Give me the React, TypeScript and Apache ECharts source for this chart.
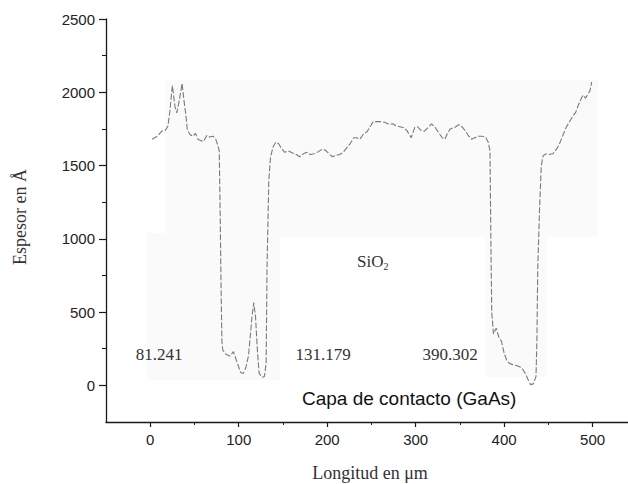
import React, { useEffect, useRef } from "react";
import * as echarts from "echarts";

const profileX = [2, 8, 13, 17, 20, 22, 25, 28, 30, 33, 36, 38, 40, 42, 45, 48, 51, 54, 57, 60, 64, 67, 71, 74, 76, 78, 79, 80, 81, 82, 86, 90, 94, 98, 102, 105, 108, 111, 113, 115, 117, 119, 121, 123, 126, 129, 131, 132, 134, 136, 139, 142, 145, 148, 152, 156, 161, 165, 169, 173, 177, 181, 185, 190, 194, 198, 202, 206, 210, 214, 218, 222, 226, 230, 233, 237, 241, 245, 249, 252, 256, 260, 265, 270, 274, 278, 282, 286, 290, 295, 299, 302, 306, 310, 314, 318, 322, 326, 330, 333, 336, 339, 344, 349, 353, 357, 360, 363, 367, 371, 375, 379, 382, 384, 385, 386, 388, 391, 394, 397, 400, 403, 406, 410, 414, 418, 421, 424, 427, 430, 433, 436, 437, 438, 440, 442, 444, 447, 451, 455, 459, 462, 466, 470, 474, 478, 481, 485, 489, 492, 495, 497, 499];
const profileY = [1680, 1700, 1735, 1740, 1770, 1860, 2045, 1900, 1860, 1950, 2060, 1950, 1860, 1740, 1712, 1700, 1720, 1680, 1670, 1665, 1705, 1695, 1700, 1680, 1645, 1600, 1200, 700, 300, 240, 210, 200, 230, 160, 90, 80, 120, 200, 330, 470, 565, 470, 250, 85, 55, 60, 150, 800, 1400, 1560, 1630, 1660, 1650, 1620, 1590, 1600, 1585, 1575, 1560, 1580, 1590, 1575, 1580, 1595, 1610, 1605, 1580, 1560, 1570, 1575, 1590, 1620, 1650, 1690, 1690, 1680, 1715, 1730, 1770, 1800, 1800, 1800, 1795, 1780, 1785, 1770, 1765, 1760, 1740, 1690, 1760, 1765, 1740, 1735, 1760, 1785, 1760, 1725, 1690, 1680, 1720, 1750, 1760, 1780, 1760, 1730, 1700, 1680, 1690, 1700, 1700, 1695, 1660, 1600, 1000, 500, 350, 390, 330, 300, 220, 170, 150, 140, 135, 125, 110, 80, 40, 5, 10, 60, 300, 800, 1200, 1500, 1565, 1580, 1575, 1580, 1610, 1640, 1700, 1760, 1800, 1840, 1865, 1930, 1980, 1960, 1990, 2010, 2070];

const xMajorTicks = [0, 100, 200, 300, 400, 500];
const xMinorTicks = [50, 150, 250, 350, 450];
const yMajorTicks = [0, 500, 1000, 1500, 2000, 2500];
const yMinorTicks = [250, 750, 1250, 1750, 2250];

const edgeLabels = ["81.241", "131.179", "390.302"];
const xTitle = "Longitud en \u03bcm";
const yTitle = "Espesor en \u00c5";
const layerTop = "SiO";
const layerBottom = "Capa de contacto (GaAs)";

export default function App() {
  const ref = useRef<HTMLDivElement>(null);
  useEffect(() => {
    if (!ref.current) return;
    const chart = echarts.init(ref.current, null, { renderer: "svg" });
    const data = profileX.map((x, i) => [x, profileY[i]]);
    const serif = "'Liberation Serif', 'DejaVu Serif', serif";
    const sans = "'Liberation Sans', Arial, sans-serif";
    const axisColor = "#1a1a1a";
    const grid = { left: 106, top: 19, width: 523, height: 403 };
    const plain = (v: number) => String(v);
    chart.setOption({
      animation: false,
      backgroundColor: "#ffffff",
      grid,
      xAxis: [
        {
          type: "value",
          min: -50,
          max: 540,
          splitLine: { show: false },
          axisLine: { show: true, onZero: false, lineStyle: { color: axisColor, width: 1.3 } },
          axisTick: { show: true, customValues: xMajorTicks, length: 5, lineStyle: { color: axisColor, width: 1.2 } },
          axisLabel: { customValues: xMajorTicks, formatter: plain, margin: 10, fontSize: 15, fontFamily: sans, color: "#222" },
        },
        {
          type: "value",
          min: -50,
          max: 540,
          position: "bottom",
          splitLine: { show: false },
          axisLine: { show: false, onZero: false },
          axisTick: { show: true, customValues: xMinorTicks, length: 3, lineStyle: { color: axisColor, width: 1 } },
          axisLabel: { show: false },
        },
      ],
      yAxis: [
        {
          type: "value",
          min: -250,
          max: 2500,
          splitLine: { show: false },
          axisLine: { show: true, onZero: false, lineStyle: { color: axisColor, width: 1.3 } },
          axisTick: { show: true, customValues: yMajorTicks, length: 7, lineStyle: { color: axisColor, width: 1.2 } },
          axisLabel: { customValues: yMajorTicks, formatter: plain, margin: 11, fontSize: 15, fontFamily: sans, color: "#222" },
        },
        {
          type: "value",
          min: -250,
          max: 2500,
          position: "left",
          splitLine: { show: false },
          axisLine: { show: false, onZero: false },
          axisTick: { show: true, customValues: yMinorTicks, length: 4, lineStyle: { color: axisColor, width: 1 } },
          axisLabel: { show: false },
        },
      ],
      graphic: [
        { type: "rect", z: -10, shape: { x: 166, y: 80, width: 432, height: 157 }, style: { fill: "#fafafa" } },
        { type: "rect", z: -10, shape: { x: 147, y: 233, width: 133, height: 147 }, style: { fill: "#fafafa" } },
        { type: "rect", z: -10, shape: { x: 485, y: 237, width: 62, height: 140 }, style: { fill: "#fafafa" } },
        {
          type: "text",
          x: 20,
          y: 217,
          rotation: Math.PI / 2,
          style: { text: yTitle, fontSize: 18, fontFamily: serif, fill: "#333", align: "center", verticalAlign: "middle" },
        },
        {
          type: "text",
          x: 370,
          y: 473,
          style: { text: xTitle, fontSize: 18, fontFamily: serif, fill: "#333", align: "center", verticalAlign: "middle" },
        },
        {
          type: "text",
          x: 159,
          y: 354,
          style: { text: edgeLabels[0], fontSize: 17, fontFamily: serif, fill: "#333", align: "center", verticalAlign: "middle" },
        },
        {
          type: "text",
          x: 323,
          y: 354,
          style: { text: edgeLabels[1], fontSize: 17, fontFamily: serif, fill: "#333", align: "center", verticalAlign: "middle" },
        },
        {
          type: "text",
          x: 450,
          y: 354,
          style: { text: edgeLabels[2], fontSize: 17, fontFamily: serif, fill: "#333", align: "center", verticalAlign: "middle" },
        },
        {
          type: "text",
          x: 357,
          y: 261,
          style: {
            text: "{m|" + layerTop + "}{s|2}",
            fill: "#333",
            verticalAlign: "middle",
            rich: {
              m: { fontSize: 17, fontFamily: serif, fill: "#333" },
              s: { fontSize: 10, fontFamily: serif, fill: "#333", padding: [10, 0, 0, 0] },
            },
          },
        },
        {
          type: "text",
          x: 302,
          y: 398,
          style: { text: layerBottom, fontSize: 19, fontFamily: sans, fill: "#111", align: "left", verticalAlign: "middle" },
        },
      ],
      series: [
        {
          type: "line",
          xAxisIndex: 0,
          yAxisIndex: 0,
          data,
          showSymbol: false,
          symbol: "none",
          smooth: false,
          lineStyle: { color: "#7a7a7a", width: 1.1, type: [6, 2] },
          z: 5,
        },
      ],
    });
    return () => chart.dispose();
  }, []);
  return <div ref={ref} style={{ position: "fixed", left: 0, top: 0, width: 628, height: 484 }} />;
}
